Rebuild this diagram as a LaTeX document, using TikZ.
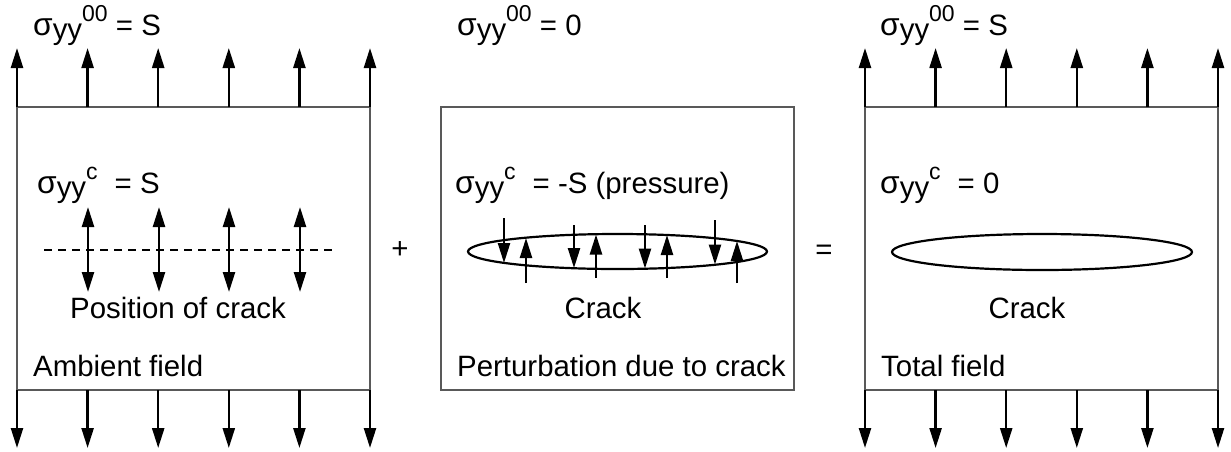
\documentclass[tikz,border=0pt]{standalone}
\usepackage{fontspec}
\setmainfont{Liberation Sans}
\usetikzlibrary{arrows.meta}
\newcommand\sigyy[1]{\scalebox{1.08}{σ}\raisebox{-0.14em}{yy}\raisebox{0.45em}{\fontsize{23}{23}\selectfont #1}}
\begin{document}
\begin{tikzpicture}[x=1pt,y=-1pt,
  box/.style={draw=black!65,line width=1.3pt},
  force/.style={line width=2.4pt,-{Triangle[length=20pt,width=12pt]}},
  dforce/.style={line width=2.4pt,{Triangle[length=20pt,width=12pt]}-{Triangle[length=20pt,width=12pt]}},
  lab/.style={anchor=base west,inner sep=0pt,font=\fontsize{29.4}{34}\selectfont},
  clab/.style={anchor=base,inner sep=0pt,font=\fontsize{29.4}{34}\selectfont},
  crack/.style={draw,line width=2.2pt}]
\useasboundingbox (0,0) rectangle (1231,451);
% boxes
\draw[box] (17,107) rectangle (370,390);
\draw[box] (441,107) rectangle (794,390);
\draw[box] (865,107) rectangle (1218,390);
% outer loading arrows
\foreach \i in {0,...,5}{
  \coordinate (lt\i) at ({17+70.6*\i},107);
  \coordinate (lth\i) at ({17+70.6*\i},48);
  \coordinate (lb\i) at ({17+70.6*\i},390);
  \coordinate (lbh\i) at ({17+70.6*\i},448);
  \draw[force] (lt\i) -- (lth\i);
  \draw[force] (lb\i) -- (lbh\i);
  \coordinate (rt\i) at ({865+70.6*\i},107);
  \coordinate (rth\i) at ({865+70.6*\i},48);
  \coordinate (rb\i) at ({865+70.6*\i},390);
  \coordinate (rbh\i) at ({865+70.6*\i},448);
  \draw[force] (rt\i) -- (rth\i);
  \draw[force] (rb\i) -- (rbh\i);
}
% top labels
\node[lab] (t1) at (33,35) {\sigyy{00} = S};
\node[lab] (t2) at (457,35) {\sigyy{00} = 0};
\node[lab] (t3) at (880,35) {\sigyy{00} = S};
% inner labels
\node[lab] (c1) at (37,193) {\sigyy{c}\hspace{0.3em} = S};
\node[lab] (c2) at (455,193) {\sigyy{c}\hspace{0.3em} = -S (pressure)};
\node[lab] (c3) at (880,193) {\sigyy{c}\hspace{0.3em} = 0};
% left panel: crack position and stresses
\coordinate (d1) at (44,250);
\coordinate (d2) at (337,250);
\draw[line width=1.5pt,dash pattern=on 8pt off 6pt] (d1) -- (d2);
\foreach \x [count=\k] in {88,159,229,300}{
  \coordinate (da\k) at (\x,207);
  \coordinate (db\k) at (\x,292);
  \draw[dforce] (da\k) -- (db\k);
}
\node[clab] (pos) at (178,318) {Position of crack};
\node[lab] (amb) at (33,376) {Ambient field};
% middle panel
\draw[crack] (617.5,251.5) ellipse [x radius=149.5, y radius=17.5];
\coordinate (m1a) at (504,218); \coordinate (m1b) at (504,263);
\coordinate (m2a) at (574,225); \coordinate (m2b) at (574,268);
\coordinate (m3a) at (645,225); \coordinate (m3b) at (645,268.5);
\coordinate (m4a) at (715,220); \coordinate (m4b) at (715,264.5);
\coordinate (u1a) at (526,283); \coordinate (u1b) at (526,238);
\coordinate (u2a) at (596,278); \coordinate (u2b) at (596,234.5);
\coordinate (u3a) at (667,278); \coordinate (u3b) at (667,235);
\coordinate (u4a) at (737,283); \coordinate (u4b) at (737,241);
\foreach \k in {1,...,4}{
  \draw[force] (m\k a) -- (m\k b);
  \draw[force] (u\k a) -- (u\k b);
}
\node[clab] (ck2) at (603,318) {Crack};
\node[lab] (per) at (457,376) {Perturbation due to crack};
% right panel
\draw[crack] (1042,252) ellipse [x radius=150, y radius=18];
\node[clab] (ck3) at (1027,318) {Crack};
\node[lab] (tot) at (881,376) {Total field};
% operators
\node[clab] (plus) at (400,258) {+};
\node[clab] (eq) at (824,259) {=};
\end{tikzpicture}
\end{document}
